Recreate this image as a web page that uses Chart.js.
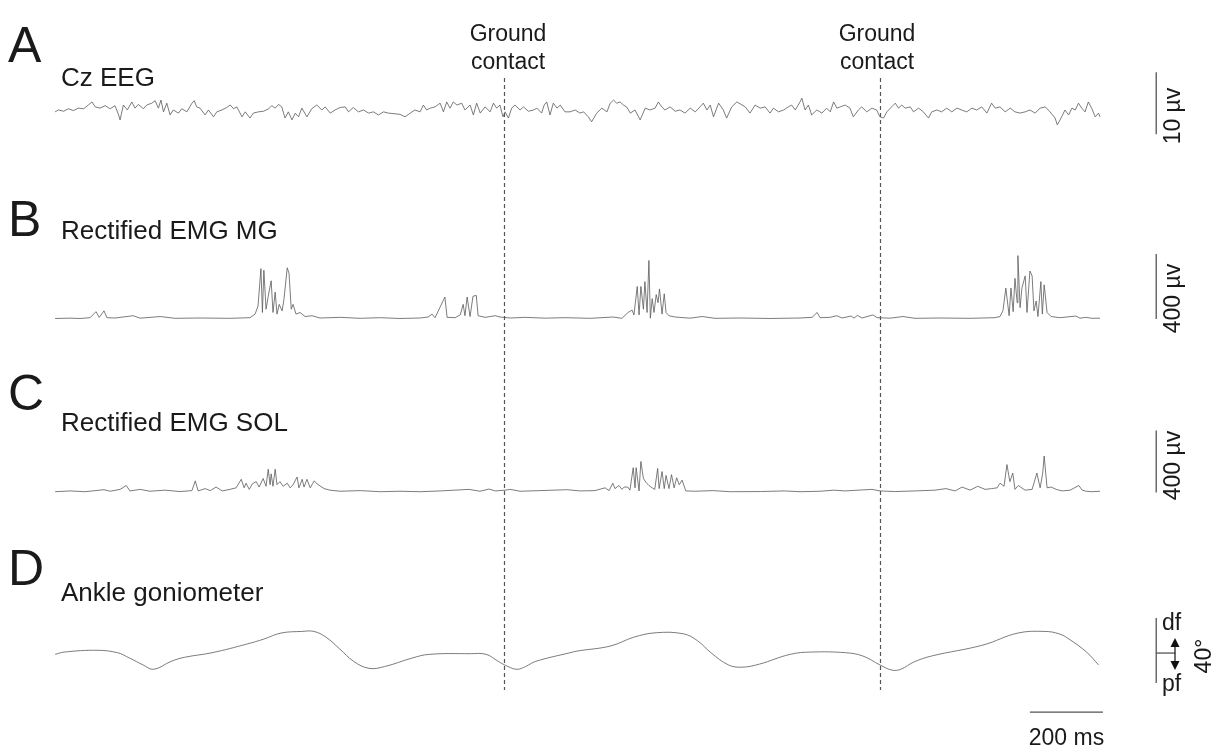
<!DOCTYPE html>
<html>
<head>
<meta charset="utf-8">
<script src="https://cdn.jsdelivr.net/npm/chart.js@4.4.1/dist/chart.umd.min.js"></script>
<style>
  html, body { margin: 0; padding: 0; background: #fff; }
  #fig { display: block; }
</style>
</head>
<body>
<canvas id="fig" width="1223" height="753"></canvas>
<script>
// time in ms, values in µV (EEG, EMG) and degrees (ankle, + = dorsiflexion)
const panelLetters = ['A', 'B', 'C', 'D'];
const panelTitles = ['Cz EEG', 'Rectified EMG MG', 'Rectified EMG SOL', 'Ankle goniometer'];
const groundContacts = [1230, 2260];
const eegScale = 10;
const emgScale = 400;
const ankleScale = 40;
const timeScale = 200;

const eegTrace = [
  [0,-0.3],[9,0],[23,-0.2],[37,0.2],[50,-0.1],[64,0.3],[78,0.2],[91,0.8],[101,1.3],[110,0.5],[123,0.3],[137,0.7],[151,0.2],[164,0.7],[174,-0.8],[178,-1.6],[187,0.8],[198,0],[210,1.3],[219,0.3],[228,0.9],[242,0.2],[251,0.8],[265,1.1],[274,1.5],[283,0.3],[290,1.6],[297,-0.3],[306,1.1],[315,-0.8],[324,0],[338,-0.5],[347,0.2],[361,-0.3],[375,1.1],[381,1.5],[388,0.5],[397,0.3],[411,-0.8],[420,0],[434,-1.1],[443,-0.3],[457,0],[470,0.4],[480,0.8],[489,0.2],[498,0.5],[512,-1.1],[521,-0.3],[534,-1.3],[543,-0.5],[557,-0.3],[571,-0.2],[585,0.2],[594,0.7],[603,0.3],[612,0.9],[621,0.5],[630,-1.3],[639,-0.3],[649,-1.6],[658,-0.5],[667,-1.1],[676,0.3],[690,-1.1],[703,0.2],[717,0.8],[731,0],[740,0.5],[754,-0.5],[767,0],[781,0.4],[795,0.5],[804,-0.3],[817,0.4],[831,-0.3],[845,0],[859,-0.5],[872,-0.3],[886,-0.8],[900,-0.3],[913,-0.5],
  [945,-0.7],[959,-1.1],[973,-0.5],[986,0],[1000,-0.3],[1009,0.8],[1018,0],[1028,0.3],[1041,0.5],[1055,1.1],[1064,-0.3],[1073,1.3],[1082,0.3],[1091,1.3],[1101,0.8],[1114,1.1],[1123,0],[1137,0.8],[1146,-0.8],[1155,1.1],[1165,-0.5],[1178,0.5],[1192,-0.3],[1201,1.1],[1210,0.3],[1219,0.8],[1227,-1.1],[1233,-0.3],[1242,-1.3],[1251,0.3],[1260,0.8],[1274,0],[1283,0.5],[1297,-0.2],[1311,0],[1320,0.3],[1333,-0.5],[1340,0.8],[1347,1.3],[1356,-0.8],[1365,1.1],[1375,0.3],[1384,0.8],[1397,-0.3],[1411,-0.3],[1425,0],[1438,-0.5],[1448,-0.3],[1461,-1.1],[1470,-1.9],[1484,-0.5],[1498,0.3],[1512,-0.3],[1521,1.1],[1530,1.6],[1539,1.1],[1548,1.3],[1557,0.8],[1566,0.5],[1576,-0.5],[1589,0],[1603,-1.6],[1617,0.3],[1630,0],[1644,0.3],[1653,1.3],[1662,0.5],[1671,0],[1685,0.5],[1699,-0.2],[1712,0],[1726,-0.5],[1740,0.3],[1754,-0.3],[1767,0.5],[1776,1.1],[1786,0],[1795,0.8],[1804,-1.1],[1818,1.1],[1831,0],[1840,-1.3],[1854,0.5],[1868,1.3],
  [1891,0.5],[1904,-0.5],[1918,0.8],[1932,0.3],[1945,0.5],[1959,-0.5],[1968,0.3],[1982,-0.3],[1996,0],[2009,0.5],[2018,0.8],[2028,0],[2041,1.3],[2046,1.9],[2055,0],[2064,0.8],[2073,-0.8],[2087,0],[2101,-0.5],[2114,0.3],[2124,-0.3],[2133,1.3],[2142,0.3],[2151,0.5],[2165,0.8],[2178,0.3],[2187,-1.1],[2201,0],[2210,0.5],[2224,-0.3],[2238,0.3],[2251,0],[2260,-1.1],[2270,-1.3],[2279,-0.3],[2292,0.5],[2302,1.1],[2311,0.3],[2320,0.8],[2329,0.3],[2343,0.5],[2352,-0.3],[2366,0.3],[2379,-0.3],[2393,-1.3],[2402,-0.3],[2416,0],[2429,-0.3],[2443,0.3],[2457,-0.3],[2471,0.3],[2484,0],[2498,-0.3],[2512,0.3],[2525,0],[2539,0.5],[2553,-0.5],[2566,1.1],[2576,0.3],[2589,0.5],[2603,-0.3],[2617,0.3],[2630,-0.3],[2644,-0.5],[2658,-0.3],[2671,0],[2685,-0.5],[2699,0.3],[2713,0.5],[2726,-0.3],[2740,-1.3],[2746,-2.4],[2758,-1.1],[2767,0],[2777,-0.8],[2786,0.3],[2795,0],[2804,1.1],[2813,0.3],[2822,-0.3],[2831,1.3],[2840,0.3],[2850,-1.1],[2859,-0.5],[2863,-1.1]
];

const mgTrace = [
  [0,3],[41,5],[68,3],[96,8],[112,45],[121,10],[134,50],[142,8],[164,6],[214,20],[233,5],[288,15],[329,4],[397,6],[480,4],[534,8],[548,30],[556,80],[564,310],[568,40],[572,300],[578,60],[584,140],[592,235],[597,40],[603,165],[608,30],[614,90],[622,50],[627,120],[636,315],[641,280],[647,60],[652,90],[660,30],[671,40],[685,15],[704,20],[726,6],[781,10],[836,4],[891,8],[945,3],[1000,6],[1022,12],[1033,30],[1041,8],[1068,135],[1074,10],[1096,8],[1110,25],[1118,90],[1123,20],[1129,135],[1137,15],[1145,140],[1154,145],[1159,20],[1178,10],[1206,20],[1219,12],[1247,6],[1288,10],[1343,5],[1397,8],[1466,4],
  [1529,12],[1553,4],[1570,40],[1581,55],[1586,25],[1595,200],[1600,25],[1605,200],[1612,60],[1616,230],[1622,40],[1627,360],[1631,5],[1636,125],[1641,40],[1647,150],[1652,100],[1656,185],[1663,30],[1669,155],[1674,40],[1682,20],[1699,12],[1740,5],[1773,15],[1808,4],[1877,6],[1959,3],[2041,6],[2074,10],[2088,40],[2096,8],[2123,10],[2142,20],[2156,6],[2181,18],[2189,5],[2198,22],[2211,6],[2241,25],[2252,8],[2288,5],[2323,15],[2356,4],[2425,6],[2507,4],
  [2575,8],[2589,15],[2597,50],[2605,190],[2614,20],[2619,190],[2625,45],[2630,250],[2636,100],[2638,390],[2644,70],[2649,190],[2658,265],[2663,40],[2671,295],[2677,265],[2682,50],[2688,110],[2693,15],[2701,230],[2705,30],[2710,210],[2718,40],[2729,15],[2753,8],[2797,18],[2808,5],[2825,10],[2841,4],[2863,5]
];

const solTrace = [
  [0,5],[41,10],[82,5],[134,18],[151,8],[178,20],[195,45],[205,10],[233,20],[260,8],[301,15],[342,6],[375,12],[384,75],[392,10],[411,25],[425,12],[441,35],[458,10],[479,20],[496,30],[510,85],[518,30],[523,60],[532,20],[540,55],[551,70],[559,35],[570,90],[578,40],[584,150],[589,50],[592,120],[597,40],[603,150],[608,50],[616,70],[625,40],[636,60],[644,30],[652,50],[663,100],[668,30],[677,85],[682,35],[690,85],[699,30],[710,75],[718,55],[737,25],[753,15],[781,8],[836,12],[891,5],[945,8],[1000,5],[1055,10],[1134,20],[1164,8],[1189,22],[1206,10],[1233,15],[1247,20],[1274,8],[1329,12],[1403,18],[1438,10],[1479,12],
  [1507,30],[1518,12],[1528,60],[1534,25],[1545,45],[1553,20],[1559,35],[1569,35],[1575,15],[1584,160],[1589,30],[1592,160],[1600,10],[1605,200],[1612,90],[1619,65],[1627,45],[1636,30],[1643,20],[1651,155],[1655,25],[1663,135],[1669,25],[1674,110],[1682,25],[1689,115],[1696,30],[1703,95],[1710,50],[1718,80],[1728,10],[1754,8],[1802,12],[1850,5],[1932,6],[1999,10],[2041,5],[2096,8],[2134,15],[2164,10],[2200,15],[2238,20],[2260,10],[2302,6],[2356,10],[2411,15],
  [2441,25],[2466,10],[2485,35],[2507,15],[2528,40],[2548,20],[2566,25],[2581,30],[2589,60],[2600,40],[2608,180],[2616,70],[2624,125],[2630,20],[2639,45],[2658,15],[2677,20],[2690,125],[2699,30],[2706,125],[2710,235],[2718,30],[2729,35],[2743,20],[2759,10],[2781,15],[2805,45],[2814,15],[2825,8],[2841,5],[2863,8]
];

const ankleTrace = [
  [0,-0.8],[25,0.6],[115,1.7],[171,0.2],[204,-3.1],[241,-7.3],[270,-10],[318,-5.1],[355,-2.6],[430,0.2],[525,5.5],[572,8.6],[619,12.3],[676,13.3],[709,13.3],[742,9.8],[780,2.5],[818,-5.1],[860,-9.4],[903,-8.3],[978,-3.1],[1025,-0.8],[1138,-0.4],[1181,-0.8],[1214,-5.1],[1241,-8.3],[1266,-10],[1289,-8.3],[1317,-5.1],[1411,0.2],[1430,1.2],[1523,4.4],[1585,9.7],[1647,12.5],[1722,11.8],[1760,7.6],[1797,0.2],[1845,-7.3],[1882,-8.7],[1930,-6.8],[2014,-0.8],[2071,0.6],[2166,0.2],[2213,-1.8],[2260,-7.3],[2293,-10.5],[2317,-10],[2353,-5.5],[2402,-1.8],[2542,4.9],[2638,12.3],[2712,13.3],[2751,11.8],[2778,8.6],[2826,0.6],[2859,-7.3]
];

// scale bar placement (ms / axis units)
const barTime = 3017;
const timeBarStart = 2671;
const timeBarLevel = -36.3;

const traceStyle = { borderColor: '#5a5a5a', borderWidth: 0.8, pointRadius: 0, showLine: true, fill: false, tension: 0 };
const barStyle = { borderColor: '#555', borderWidth: 1.3, pointRadius: 0, showLine: true, fill: false };

const overlay = {
  id: 'overlay',
  afterDatasetsDraw(chart) {
    const { ctx, scales } = chart;
    const x = scales.x;
    ctx.save();

    // ground contact markers
    ctx.strokeStyle = '#555';
    ctx.lineWidth = 1.2;
    ctx.setLineDash([4, 3]);
    groundContacts.forEach(t => {
      const px = Math.round(x.getPixelForValue(t)) + 0.5;
      ctx.beginPath();
      ctx.moveTo(px, 78);
      ctx.lineTo(px, 690);
      ctx.stroke();
    });
    ctx.setLineDash([]);

    ctx.fillStyle = '#1a1a1a';
    ctx.textBaseline = 'alphabetic';

    // panel letters and titles
    const letterY = [62, 236, 410, 585];
    const titleY = [86, 239, 431, 601];
    ctx.font = '50px "Liberation Sans", Arial, sans-serif';
    panelLetters.forEach((l, i) => ctx.fillText(l, 8, letterY[i]));
    ctx.font = '26px "Liberation Sans", Arial, sans-serif';
    panelTitles.forEach((s, i) => ctx.fillText(s, 61, titleY[i]));

    ctx.font = '23px "Liberation Sans", Arial, sans-serif';
    ctx.textAlign = 'center';
    const gcX = [508, 877];
    gcX.forEach(cx => {
      ctx.fillText('Ground', cx, 41);
      ctx.fillText('contact', cx, 69);
    });

    // time bar label
    const tMid = x.getPixelForValue(timeBarStart + timeScale / 2);
    ctx.fillText(timeScale + ' ms', tMid, 745);

    // rotated amplitude labels
    const rot = (text, px, py) => {
      ctx.save();
      ctx.translate(px, py);
      ctx.rotate(-Math.PI / 2);
      ctx.fillText(text, 0, 0);
      ctx.restore();
    };
    rot(eegScale + ' µv', 1180, 116);
    const mgMid = scales.yMg.getPixelForValue(emgScale / 2);
    const solMid = scales.ySol.getPixelForValue(emgScale / 2);
    rot(emgScale + ' µv', 1180, mgMid + 12);
    rot(emgScale + ' µv', 1180, solMid + 4);
    rot(ankleScale + '°', 1211, 656);

    ctx.textAlign = 'left';
    ctx.fillText('df', 1162, 630);
    ctx.fillText('pf', 1162, 691);

    // df / pf arrows
    const ax = 1175;
    const zero = scales.yAnk.getPixelForValue(0);
    ctx.strokeStyle = '#222';
    ctx.lineWidth = 1.3;
    ctx.beginPath();
    ctx.moveTo(ax, zero - 8);
    ctx.lineTo(ax, zero + 8);
    ctx.stroke();
    ctx.fillStyle = '#111';
    ctx.beginPath();
    ctx.moveTo(ax, zero - 15); ctx.lineTo(ax - 4.5, zero - 6); ctx.lineTo(ax + 4.5, zero - 6); ctx.closePath();
    ctx.fill();
    ctx.beginPath();
    ctx.moveTo(ax, zero + 17); ctx.lineTo(ax - 4.5, zero + 8); ctx.lineTo(ax + 4.5, zero + 8); ctx.closePath();
    ctx.fill();

    ctx.restore();
  }
};

new Chart(document.getElementById('fig'), {
  type: 'scatter',
  data: {
    datasets: [
      { ...traceStyle, data: eegTrace, yAxisID: 'yEeg' },
      { ...traceStyle, data: mgTrace, yAxisID: 'yMg' },
      { ...traceStyle, data: solTrace, yAxisID: 'ySol' },
      { ...traceStyle, data: ankleTrace, yAxisID: 'yAnk', tension: 0.4 },
      { ...barStyle, data: [[barTime, -3.9], [barTime, -3.9 + eegScale]], yAxisID: 'yEeg' },
      { ...barStyle, data: [[barTime, 0], [barTime, emgScale]], yAxisID: 'yMg' },
      { ...barStyle, data: [[barTime, 0], [barTime, emgScale]], yAxisID: 'ySol' },
      { ...barStyle, data: [[barTime, -18.5], [barTime, -18.5 + ankleScale]], yAxisID: 'yAnk' },
      { ...barStyle, data: [[barTime, 0], [barTime + 52, 0]], yAxisID: 'yAnk' },
      { ...barStyle, data: [[timeBarStart, timeBarLevel], [timeBarStart + timeScale, timeBarLevel]], yAxisID: 'yAnk' }
    ]
  },
  options: {
    responsive: false,
    animation: false,
    layout: { padding: 0 },
    plugins: { legend: { display: false }, tooltip: { enabled: false } },
    scales: {
      x: { type: 'linear', min: -151, max: 3200, display: false },
      yEeg: { type: 'linear', min: -103.7, max: 17.74, display: false },
      yMg: { type: 'linear', min: -2671, max: 1963, display: false },
      ySol: { type: 'linear', min: -1680.6, max: 3177, display: false },
      yAnk: { type: 'linear', min: -61.5, max: 401.8, display: false }
    }
  },
  plugins: [overlay]
});
</script>
</body>
</html>
